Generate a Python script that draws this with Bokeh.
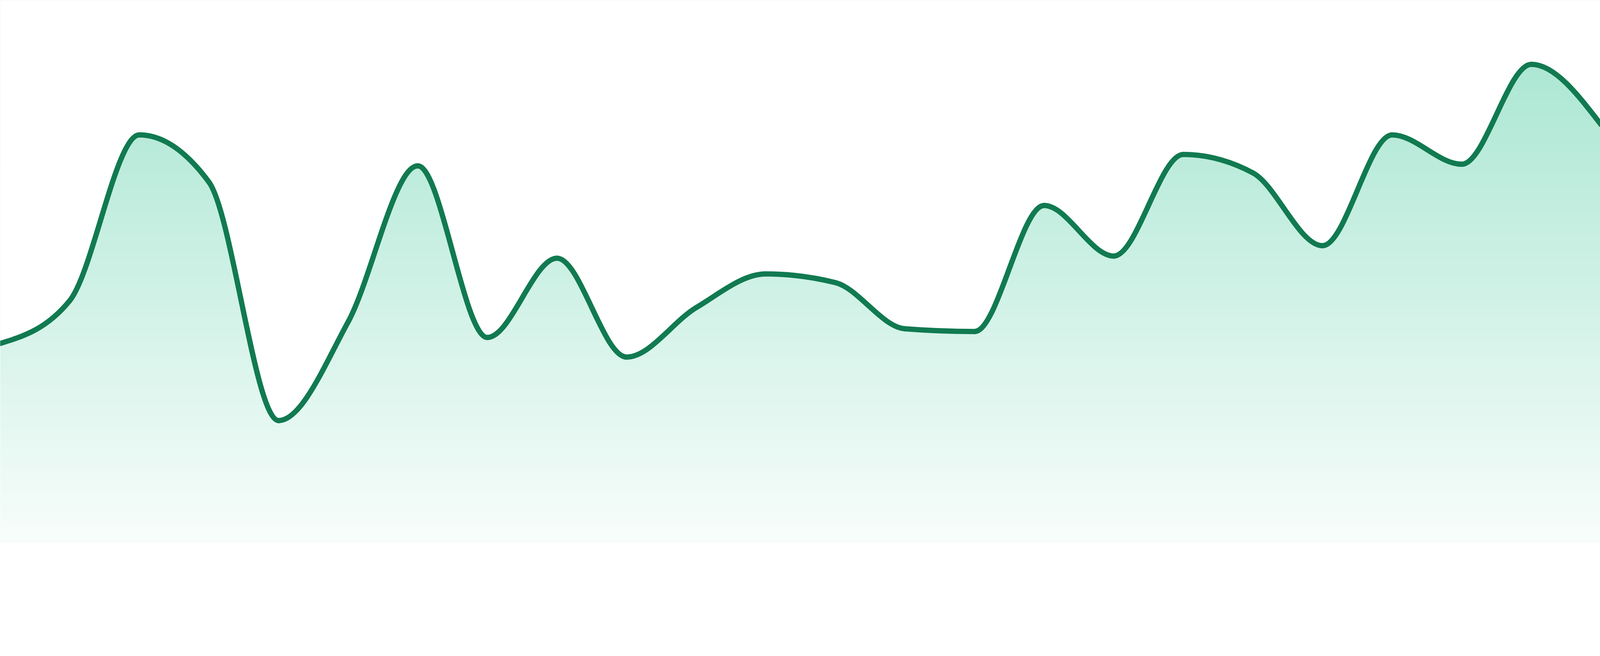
import numpy as np
from bokeh.plotting import figure
from bokeh.models import Range1d, ColumnDataSource
from bokeh.embed import file_html
from bokeh.resources import INLINE

# ---- data ----
points = list(range(24))
values = [36.8, 44.7, 75.2, 66.5, 22.6, 40.8, 69.5, 37.9, 52.5, 34.3, 43.4, 49.6,
          48.0, 39.5, 39.0, 62.2, 52.9, 71.6, 68.2, 54.8, 75.2, 69.8, 88.2, 77.1]

LINE_COLOR = "#117a50"
FILL_RGB = (16, 185, 129)
Y_MAX = 100


def monotone_tangents(x, y):
    """Tangents of a monotone-X cubic (same rule as d3.curveMonotoneX)."""
    x = np.asarray(x, float)
    y = np.asarray(y, float)
    n = len(x)
    h = np.diff(x)
    s = np.diff(y) / h
    t = np.zeros(n)
    for i in range(1, n - 1):
        h0, h1, s0, s1 = h[i - 1], h[i], s[i - 1], s[i]
        p = (s0 * h1 + s1 * h0) / (h0 + h1)
        t[i] = (np.sign(s0) + np.sign(s1)) * min(abs(s0), abs(s1), 0.5 * abs(p))
    t[0] = (3 * s[0] - t[1]) / 2
    t[-1] = (3 * s[-1] - t[-2]) / 2
    return t


xs = np.asarray(points, float)
ys = np.asarray(values, float)
tan = monotone_tangents(xs, ys)
h = np.diff(xs)

seg = dict(
    x0=xs[:-1], y0=ys[:-1], x1=xs[1:], y1=ys[1:],
    cx0=xs[:-1] + h / 3, cy0=ys[:-1] + h / 3 * tan[:-1],
    cx1=xs[1:] - h / 3, cy1=ys[1:] - h / 3 * tan[1:],
)
seg_src = ColumnDataSource(seg)

# outline of the same curve, for the white mask above the area
tt = np.linspace(0, 1, 40)
cx, cy = [], []
for i in range(len(xs) - 1):
    P = [(seg["x0"][i], seg["y0"][i]), (seg["cx0"][i], seg["cy0"][i]),
         (seg["cx1"][i], seg["cy1"][i]), (seg["x1"][i], seg["y1"][i])]
    b = [(1 - tt) ** 3, 3 * (1 - tt) ** 2 * tt, 3 * (1 - tt) * tt ** 2, tt ** 3]
    bx = sum(b[k] * P[k][0] for k in range(4))
    by = sum(b[k] * P[k][1] for k in range(4))
    if i > 0:
        bx, by = bx[1:], by[1:]
    cx.extend(bx)
    cy.extend(by)
mask_src = ColumnDataSource(dict(x=cx, y1=cy, y2=[Y_MAX] * len(cx)))

# vertical gradient for the area fill
N = 400
lev = (np.arange(N) + 0.5) / N * Y_MAX
alpha = 0.03 + lev * 0.00359
img = np.empty((N, 2), dtype=np.uint32)
view = img.view(dtype=np.uint8).reshape((N, 2, 4))
for k in range(3):
    view[:, :, k] = np.round(255 - (255 - FILL_RGB[k]) * alpha)[:, None]
view[:, :, 3] = 255

p = figure(width=4098, height=1424, output_backend="svg", toolbar_location=None,
           x_range=Range1d(0, len(points) - 1), y_range=Range1d(0, Y_MAX),
           min_border_left=0, min_border_right=0, min_border_top=0,
           min_border_bottom=33)
p.axis.visible = False
p.grid.visible = False
p.outline_line_color = None
p.background_fill_color = "white"
p.border_fill_color = "white"

p.image_rgba(image=[img], x=0, y=0, dw=len(points) - 1, dh=Y_MAX)
p.varea(x="x", y1="y1", y2="y2", source=mask_src, fill_color="white", fill_alpha=1.0)
p.bezier(x0="x0", y0="y0", x1="x1", y1="y1", cx0="cx0", cy0="cy0",
         cx1="cx1", cy1="cy1", source=seg_src, line_color=LINE_COLOR,
         line_width=13.5, line_cap="round")

open("out.html", "w").write(file_html(p, INLINE))
